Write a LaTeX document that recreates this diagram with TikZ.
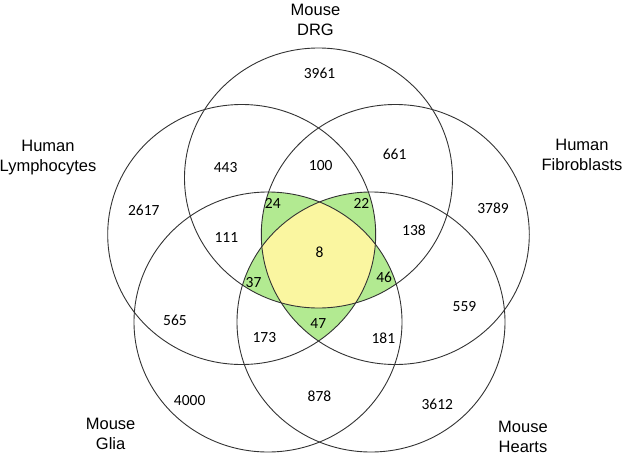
\documentclass[tikz,border=0pt]{standalone}
\usepackage{fontspec}
\setmainfont{Carlito}
\newfontfamily\setnamefont{Liberation Sans}
\definecolor{coreyellow}{RGB}{250,246,160}
\definecolor{petalgreen}{RGB}{178,234,145}
\tikzset{
  setname/.style={align=center,font=\setnamefont\fontsize{16.5}{20}\selectfont},
  count/.style={font=\fontsize{15.5}{18}\selectfont},
  ring/.style={draw=black!80,line width=0.9pt},
  oval/.style={x radius=134pt,y radius=130pt}
}
\begin{document}
\begin{tikzpicture}[x=1pt,y=-1pt]
  \useasboundingbox (0,0) rectangle (625,456);
  \coordinate (drg) at (318.5,178);
  \coordinate (lym) at (241.7,234.5);
  \coordinate (fib) at (395.3,234.5);
  \coordinate (gli) at (268,322);
  \coordinate (hrt) at (371,322);
  \begin{scope}
    \clip (lym) circle[oval]; \clip (fib) circle[oval];
    \clip (gli) circle[oval]; \clip (hrt) circle[oval];
    \fill[petalgreen] (0,0) rectangle (625,456);
  \end{scope}
  \begin{scope}
    \clip (drg) circle[oval]; \clip (fib) circle[oval];
    \clip (gli) circle[oval]; \clip (hrt) circle[oval];
    \fill[petalgreen] (0,0) rectangle (625,456);
  \end{scope}
  \begin{scope}
    \clip (drg) circle[oval]; \clip (lym) circle[oval];
    \clip (gli) circle[oval]; \clip (hrt) circle[oval];
    \fill[petalgreen] (0,0) rectangle (625,456);
  \end{scope}
  \begin{scope}
    \clip (drg) circle[oval]; \clip (lym) circle[oval];
    \clip (fib) circle[oval]; \clip (hrt) circle[oval];
    \fill[petalgreen] (0,0) rectangle (625,456);
  \end{scope}
  \begin{scope}
    \clip (drg) circle[oval]; \clip (lym) circle[oval];
    \clip (fib) circle[oval]; \clip (gli) circle[oval];
    \fill[petalgreen] (0,0) rectangle (625,456);
  \end{scope}
  \begin{scope}
    \clip (drg) circle[oval]; \clip (lym) circle[oval];
    \clip (fib) circle[oval]; \clip (gli) circle[oval];
    \clip (hrt) circle[oval];
    \fill[coreyellow] (0,0) rectangle (625,456);
  \end{scope}
  \draw[ring] (drg) circle[oval];
  \draw[ring] (lym) circle[oval];
  \draw[ring] (fib) circle[oval];
  \draw[ring] (gli) circle[oval];
  \draw[ring] (hrt) circle[oval];
  \draw
    (315.5,20) node[setname] (drgname) {Mouse\\DRG}
    (48,158) node[setname] (lymname) {Human\\Lymphocytes}
    (582,155) node[setname] (fibname) {Human\\Fibroblasts}
    (110.6,434) node[setname] (gliname) {Mouse\\Glia}
    (523,437) node[setname] (hrtname) {Mouse\\Hearts};
  \draw
    (319.5,73) node[count] (v3961) {3961}
    (225.6,168) node[count] (v443) {443}
    (320.7,166) node[count] (v100) {100}
    (394.6,154) node[count] (v661) {661}
    (143.8,210.7) node[count] (v2617) {2617}
    (493,208) node[count] (v3789) {3789}
    (272.8,203) node[count] (v24) {24}
    (361.4,203) node[count] (v22) {22}
    (226.4,238) node[count] (v111) {111}
    (319.5,252) node[count] (v8) {8}
    (414,230) node[count] (v138) {138}
    (253.6,282.7) node[count] (v37) {37}
    (384.2,277.3) node[count] (v46) {46}
    (175,320.7) node[count] (v565) {565}
    (464.5,307) node[count] (v559) {559}
    (318.3,323.3) node[count] (v47) {47}
    (264.4,338) node[count] (v173) {173}
    (383.4,338) node[count] (v181) {181}
    (189.7,401) node[count] (v4000) {4000}
    (319.5,396) node[count] (v878) {878}
    (437.3,404) node[count] (v3612) {3612};
\end{tikzpicture}
\end{document}
